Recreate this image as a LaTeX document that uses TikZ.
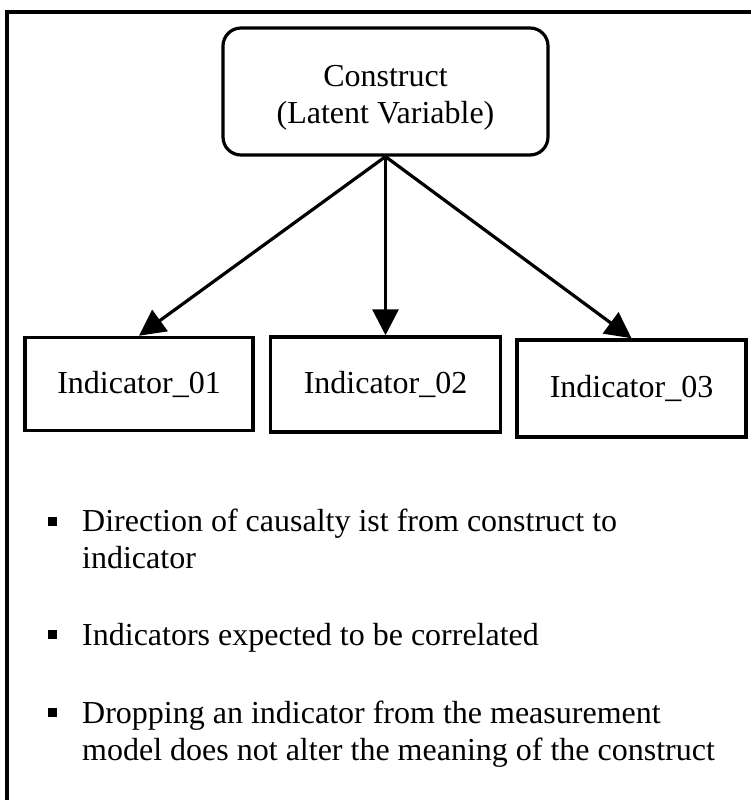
\documentclass[tikz,border=0pt]{standalone}
\usepackage{fontspec}
\setmainfont{Liberation Serif}
\usetikzlibrary{arrows.meta}
\begin{document}
\begin{tikzpicture}[x=1pt,y=-1pt,
  every node/.style={font=\fontsize{32}{37}\selectfont},
  construct/.style={draw,line width=3.2pt,rounded corners=18pt,align=center,
    inner sep=0pt,minimum width=325pt,minimum height=127pt},
  indicator/.style={draw,line width=3.5pt,inner sep=0pt},
  causal/.style={line width=3.2pt,-{Triangle[length=26pt,width=26pt]}},
  itemtext/.style={anchor=base west,align=left,inner sep=0pt},
  bulletmark/.style={fill=black,inner sep=0pt,minimum size=9pt}]
  \useasboundingbox (0,0) rectangle (750,800);
  \fill[white] (0,0) rectangle (750,800);
  % outer frame, running off the page at the right and bottom
  \draw[line width=4pt] (7,830) -- (7,12) -- (780,12);

  % construct and its indicators
  \node[construct] (c) at (385.5,91.5) {\rule{0pt}{34pt}Construct\\(Latent Variable)};
  \node[indicator,minimum width=228pt,minimum height=93pt] (i1) at (139,384) {Indicator\_01};
  \node[indicator,minimum width=230pt,minimum height=95pt] (i2) at (385.5,384.5) {Indicator\_02};
  \node[indicator,minimum width=229pt,minimum height=97pt] (i3) at (631.5,388.5) {Indicator\_03};

  \draw[causal] (c.south) -- (i1.north);
  \draw[causal] (c.south) -- (i2.north);
  \draw[causal] (c.south) -- (i3.north);

  % notes (base anchor sits on the last line of each item)
  \node[bulletmark] (b1) at (52.5,521) {};
  \node[itemtext] (t1) at (82,568) {Direction of causalty ist from construct to\\indicator};
  \node[bulletmark] (b2) at (52.5,634) {};
  \node[itemtext] (t2) at (82,645) {Indicators expected to be correlated};
  \node[bulletmark] (b3) at (52.5,712) {};
  \node[itemtext] (t3) at (82,760) {Dropping an indicator from the measurement\\model does not alter the meaning of the construct};
\end{tikzpicture}
\end{document}
